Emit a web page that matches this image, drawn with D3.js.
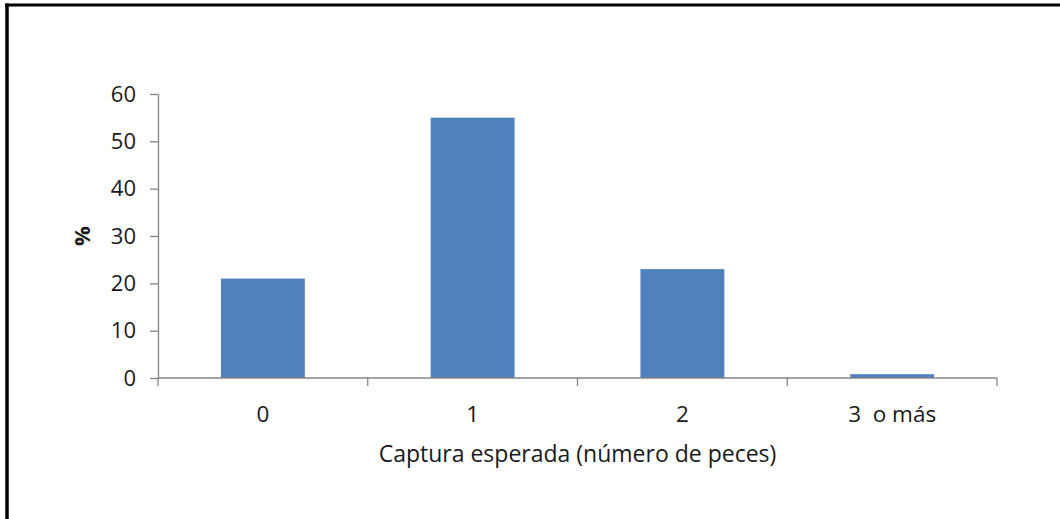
<!DOCTYPE html>
<html>
<head>
<meta charset="utf-8">
<script src="https://cdn.jsdelivr.net/npm/d3@7/dist/d3.min.js"></script>
<style>
  body { margin: 0; background: #fff; }
  text { font-family: "Open Sans", Lato, sans-serif; fill: #1a1a1a; }
</style>
</head>
<body>
<div id="chart"></div>
<script>
const categories = ["0", "1", "2", "3  o más"];
const values = [21, 55, 23, 0.8];
const yTicks = [0, 10, 20, 30, 40, 50, 60];
const xTitle = "Captura esperada (número de peces)";
const yTitle = "%";

const W = 1060, H = 519;
const margin = { top: 94, right: 63, bottom: 141, left: 158 };
const width = W - margin.left - margin.right,
      height = H - margin.top - margin.bottom;

const svg = d3.select("#chart").append("svg")
    .attr("width", W)
    .attr("height", H);

// outer frame (only top and left edges show in the picture)
svg.append("line").attr("x1", 5).attr("x2", W).attr("y1", 5).attr("y2", 5)
    .attr("stroke", "#000").attr("stroke-width", 3);
svg.append("line").attr("x1", 7).attr("x2", 7).attr("y1", 3.5).attr("y2", H)
    .attr("stroke", "#000").attr("stroke-width", 3.5);

const g = svg.append("g").attr("transform", `translate(${margin.left},${margin.top})`);

const x = d3.scaleBand().domain(categories).range([0, width])
    .paddingInner(0.6).paddingOuter(0.3);
const y = d3.scaleLinear().domain([0, 60]).range([height, 0]);

// bars
g.selectAll("rect.bar")
    .data(values)
    .join("rect")
    .attr("class", "bar")
    .attr("x", (d, i) => x(categories[i]))
    .attr("y", d => y(d))
    .attr("width", x.bandwidth())
    .attr("height", d => height - y(d))
    .attr("fill", "#4F81BD");

// y axis
const yAxis = g.append("g")
    .call(d3.axisLeft(y).tickValues(yTicks).tickSize(8).tickPadding(14).tickSizeOuter(0));
yAxis.select(".domain").attr("stroke", "#868686").attr("stroke-width", 1.3);
yAxis.selectAll(".tick line").attr("stroke", "#868686").attr("stroke-width", 1.3);
yAxis.selectAll(".tick text").style("font-size", "22px").attr("fill", "#1a1a1a");

// x axis: ticks sit on the category boundaries
const bounds = d3.range(categories.length + 1).map(i => i * width / categories.length);
const xAxis = g.append("g").attr("transform", `translate(0,${height})`);
xAxis.append("line").attr("x1", 0).attr("x2", width)
    .attr("stroke", "#868686").attr("stroke-width", 1.3);
xAxis.selectAll("line.tk").data(bounds).join("line").attr("class", "tk")
    .attr("x1", d => d).attr("x2", d => d).attr("y1", 0).attr("y2", 8)
    .attr("stroke", "#868686").attr("stroke-width", 1.3);
xAxis.selectAll("text.lbl").data(categories).join("text").attr("class", "lbl")
    .attr("x", d => x(d) + x.bandwidth() / 2)
    .attr("y", 44)
    .attr("text-anchor", "middle")
    .style("white-space", "pre")
    .attr("xml:space", "preserve")
    .style("font-size", "22.5px")
    .text(d => d);

// titles
g.append("text")
    .attr("x", width / 2)
    .attr("y", height + 84)
    .attr("text-anchor", "middle")
    .style("font-size", "23px")
    .text(xTitle);

g.append("text")
    .attr("transform", `translate(${-68},${height / 2}) rotate(-90)`)
    .attr("text-anchor", "middle")
    .style("font-size", "22px")
    .style("font-weight", "bold")
    .text(yTitle);
</script>
</body>
</html>
